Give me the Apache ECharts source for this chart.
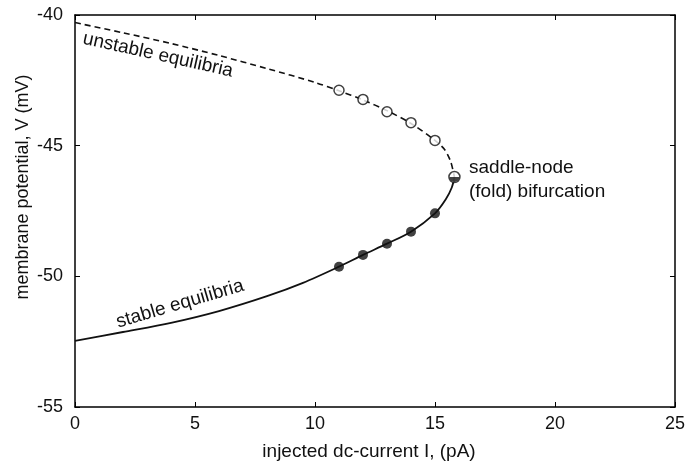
<!DOCTYPE html>
<html>
<head>
<meta charset="utf-8">
<script src="https://cdn.jsdelivr.net/npm/echarts@6/dist/echarts.min.js"></script>
<style>
  html, body { margin: 0; padding: 0; background: #fff; }
  #chart { width: 688px; height: 465px; }
</style>
</head>
<body>
<div id="chart"></div>
<script>
// ---- data ----
const stableI = [0, 2, 4, 6, 8, 9.5, 11, 12, 13, 14, 15, 15.45, 15.7, 15.81];
const stableV = [-52.47, -52.13, -51.78, -51.33, -50.76, -50.25, -49.63, -49.18, -48.75, -48.29, -47.59, -47.05, -46.6, -46.2];
const unstableI = [0, 2, 4, 6, 8, 10, 11, 12, 13, 14, 15, 15.4, 15.65, 15.81];
const unstableV = [-40.29, -40.68, -41.09, -41.55, -42.05, -42.58, -42.9, -43.25, -43.66, -44.15, -44.8, -45.15, -45.6, -46.2];
const markerI = [11, 12, 13, 14, 15];
const openV = [-42.88, -43.23, -43.70, -44.12, -44.8];
const filledV = [-49.63, -49.18, -48.75, -48.29, -47.59];
const foldI = [15.81];
const foldV = [-46.2];
const xTicks = [0, 5, 10, 15, 20, 25];
const yTicks = [-55, -50, -45, -40];

const zip = (a, b) => a.map((v, i) => [v, b[i]]);
const FONT = '"Liberation Sans", Arial, Helvetica, sans-serif';
const INK = '#111';

const chart = echarts.init(document.getElementById('chart'), null, { renderer: 'canvas' });

const xBase = {
  type: 'value',
  min: xTicks[0], max: xTicks[xTicks.length - 1], interval: xTicks[1] - xTicks[0],
  splitLine: { show: false },
  axisLine: { show: true, onZero: false, lineStyle: { color: '#000', width: 1.5 } },
  axisTick: { show: true, inside: true, length: 5, lineStyle: { color: '#000', width: 1 } }
};
const yBase = {
  type: 'value',
  min: yTicks[0], max: yTicks[yTicks.length - 1], interval: yTicks[1] - yTicks[0],
  splitLine: { show: false },
  axisLine: { show: true, onZero: false, lineStyle: { color: '#000', width: 1.5 } },
  axisTick: { show: true, inside: true, length: 5, lineStyle: { color: '#000', width: 1 } }
};

chart.setOption({
  animation: false,
  backgroundColor: '#fff',
  grid: { left: 75, right: 11, top: 15, bottom: 58, containLabel: false },
  xAxis: [
    Object.assign({}, xBase, {
      position: 'bottom',
      axisLabel: { margin: 8, fontSize: 18, color: INK, fontFamily: FONT }
    }),
    Object.assign({}, xBase, { position: 'top', axisLabel: { show: false } })
  ],
  yAxis: [
    Object.assign({}, yBase, {
      position: 'left',
      axisLabel: { margin: 12, fontSize: 18, color: INK, fontFamily: FONT }
    }),
    Object.assign({}, yBase, { position: 'right', axisLabel: { show: false } })
  ],
  series: [
    {
      type: 'line', data: zip(stableI, stableV), showSymbol: false, smooth: 0.3,
      lineStyle: { color: INK, width: 1.8 }, z: 2
    },
    {
      type: 'line', data: zip(unstableI, unstableV), showSymbol: false, smooth: 0.3,
      lineStyle: { color: INK, width: 1.6, type: [6, 4] }, z: 2
    },
    {
      type: 'scatter', data: zip(markerI, openV), symbol: 'circle', symbolSize: 10,
      itemStyle: { color: '#fff', borderColor: INK, borderWidth: 1.5 }, z: 4
    },
    {
      type: 'scatter', data: zip(markerI, filledV), symbol: 'circle', symbolSize: 10,
      itemStyle: { color: INK }, z: 4
    },
    {
      type: 'scatter', data: zip(foldI, foldV), symbol: 'circle', symbolSize: 11,
      itemStyle: { color: '#fff', borderColor: INK, borderWidth: 1.5 }, z: 5
    },
    {
      type: 'scatter', data: zip(foldI, foldV),
      symbol: 'path://M0,0 A10,10 0 0 0 20,0 Z', symbolSize: [10, 5], symbolOffset: [0, 2.5],
      itemStyle: { color: INK }, z: 6
    }
  ],
  graphic: [
    {
      type: 'text', x: 369, y: 452,
      style: { text: 'injected dc-current I, (pA)', font: '19px ' + FONT, fill: INK, align: 'center', verticalAlign: 'middle' }
    },
    {
      type: 'text', x: 23, y: 187, rotation: Math.PI / 2,
      style: { text: 'membrane potential, V (mV)', font: '18px ' + FONT, fill: INK, align: 'center', verticalAlign: 'middle' }
    },
    {
      type: 'text', x: 158, y: 55, rotation: -12.5 * Math.PI / 180,
      style: { text: 'unstable equilibria', font: '19px ' + FONT, fill: INK, align: 'center', verticalAlign: 'middle' }
    },
    {
      type: 'text', x: 180, y: 304, rotation: 16.5 * Math.PI / 180,
      style: { text: 'stable equilibria', font: '19px ' + FONT, fill: INK, align: 'center', verticalAlign: 'middle' }
    },
    {
      type: 'text', x: 469, y: 168,
      style: { text: 'saddle-node', font: '19px ' + FONT, fill: INK, align: 'left', verticalAlign: 'middle' }
    },
    {
      type: 'text', x: 469, y: 192,
      style: { text: '(fold) bifurcation', font: '19px ' + FONT, fill: INK, align: 'left', verticalAlign: 'middle' }
    }
  ]
});
</script>
</body>
</html>
